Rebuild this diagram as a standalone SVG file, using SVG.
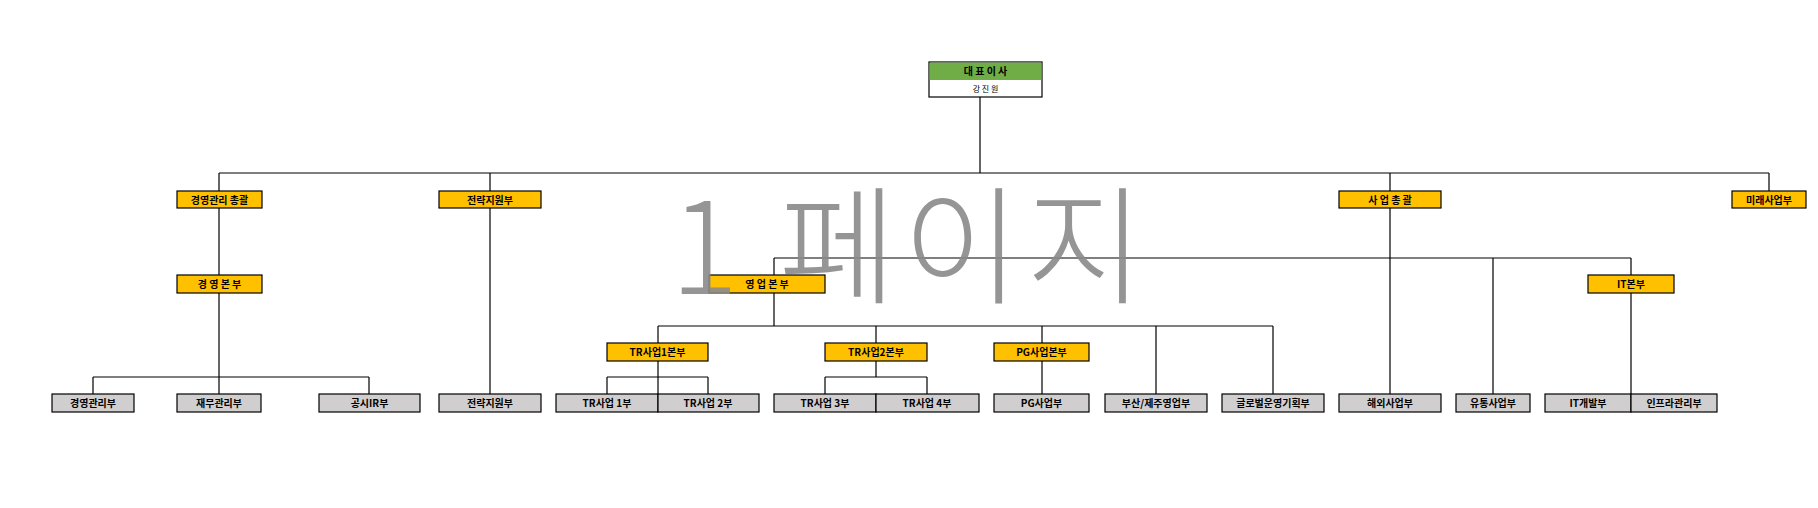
<svg xmlns="http://www.w3.org/2000/svg" width="1818" height="508" viewBox="0 0 1818 508">
<style>
.o{fill:#FFC000;stroke:#000;stroke-width:1.2}
.g{fill:#D0CECE;stroke:#000;stroke-width:1.2}
.t{font-family:"Noto Sans CJK KR","Liberation Sans",sans-serif;font-size:10px;font-weight:bold;text-anchor:middle;fill:#000}
.c{stroke:#000;stroke-width:1.2;fill:none}
</style>
<rect width="1818" height="508" fill="#fff"/>
<g id="connectors">
<path class="c" d="M980 97V173M219 173H1769M219 173V191M490 173V191M1390 173V191M1769 173V191"/>
<path class="c" d="M219 208V275M219 293V394M93 377H369M93 377V394M369 377V394"/>
<path class="c" d="M490 208V394"/>
<path class="c" d="M1390 208V394M774 258H1631M774 258V275M1493 258V394M1631 258V275M1631 293V412"/>
<path class="c" d="M774 293V326M658 326H1273M658 326V343M876 326V343M1042 326V343M1156 326V394M1273 326V394"/>
<path class="c" d="M658 361V412M607 377H708M607 377V394M708 377V394M876 361V377M825 377H927M825 377V394M927 377V394M1042 361V394"/>
</g>
<g id="ceo"><rect x="929" y="62" width="113" height="35" fill="#fff" stroke="#000" stroke-width="1.2"/><rect x="929.6" y="62.6" width="111.8" height="17.4" fill="#70AD47"/><text class="t" x="985.5" y="75">대 표 이 사</text><text class="t" x="985.5" y="92" style="font-size:8px;font-weight:normal">강 진 원</text></g>
<g id="n1"><rect class="o" x="177" y="191" width="85" height="17"/><text class="t" x="219.5" y="203.5">경영관리 총괄</text></g>
<g id="n2"><rect class="o" x="439" y="191" width="102" height="17"/><text class="t" x="490" y="203.5">전략지원부</text></g>
<g id="n3"><rect class="o" x="1339" y="191" width="102" height="17"/><text class="t" x="1390" y="203.5">사 업 총 괄</text></g>
<g id="n4"><rect class="o" x="1732" y="191" width="74" height="17"/><text class="t" x="1769" y="203.5">미래사업부</text></g>
<g id="n5"><rect class="o" x="177" y="275" width="85" height="18"/><text class="t" x="219.5" y="288">경 영 본 부</text></g>
<g id="n6"><rect class="o" x="709" y="275" width="116" height="18"/><text class="t" x="767" y="288">영 업 본 부</text></g>
<g id="n7"><rect class="o" x="1588" y="275" width="86" height="18"/><text class="t" x="1631" y="288">IT본부</text></g>
<g id="n8"><rect class="o" x="607" y="343" width="101" height="18"/><text class="t" x="657.5" y="356">TR사업1본부</text></g>
<g id="n9"><rect class="o" x="825" y="343" width="102" height="18"/><text class="t" x="876" y="356">TR사업2본부</text></g>
<g id="n10"><rect class="o" x="994" y="343" width="95" height="18"/><text class="t" x="1041.5" y="356">PG사업본부</text></g>
<g id="b1"><rect class="g" x="52" y="394" width="82" height="18"/><text class="t" x="93" y="407">경영관리부</text></g>
<g id="b2"><rect class="g" x="177" y="394" width="84" height="18"/><text class="t" x="219" y="407">재무관리부</text></g>
<g id="b3"><rect class="g" x="319" y="394" width="101" height="18"/><text class="t" x="369.5" y="407">공시IR부</text></g>
<g id="b4"><rect class="g" x="439" y="394" width="102" height="18"/><text class="t" x="490" y="407">전략지원부</text></g>
<g id="b5"><rect class="g" x="556" y="394" width="102" height="18"/><text class="t" x="607" y="407">TR사업 1부</text></g>
<g id="b6"><rect class="g" x="658" y="394" width="101" height="18"/><text class="t" x="708" y="407">TR사업 2부</text></g>
<g id="b7"><rect class="g" x="774" y="394" width="102" height="18"/><text class="t" x="825" y="407">TR사업 3부</text></g>
<g id="b8"><rect class="g" x="876" y="394" width="103" height="18"/><text class="t" x="927" y="407">TR사업 4부</text></g>
<g id="b9"><rect class="g" x="994" y="394" width="95" height="18"/><text class="t" x="1041.5" y="407">PG사업부</text></g>
<g id="b10"><rect class="g" x="1105" y="394" width="102" height="18"/><text class="t" x="1156" y="407">부산/제주영업부</text></g>
<g id="b11"><rect class="g" x="1222" y="394" width="102" height="18"/><text class="t" x="1273" y="407">글로벌운영기획부</text></g>
<g id="b12"><rect class="g" x="1339" y="394" width="102" height="18"/><text class="t" x="1390" y="407">해외사업부</text></g>
<g id="b13"><rect class="g" x="1456" y="394" width="74" height="18"/><text class="t" x="1493" y="407">유통사업부</text></g>
<g id="b14"><rect class="g" x="1545" y="394" width="86" height="18"/><text class="t" x="1588" y="407">IT개발부</text></g>
<g id="b15"><rect class="g" x="1631" y="394" width="86" height="18"/><text class="t" x="1674" y="407">인프라관리부</text></g>
<text x="910" y="294" font-family="Noto Sans CJK KR,Liberation Sans,sans-serif" font-size="128" font-weight="300" letter-spacing="6" fill="#8a8a8a" fill-opacity="0.9" text-anchor="middle">1 페이지</text>
</svg>
